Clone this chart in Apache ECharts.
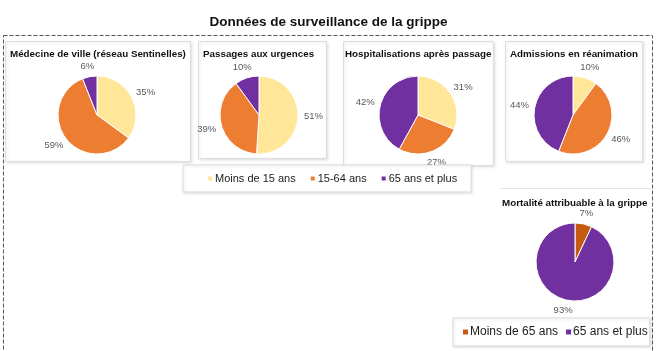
<!DOCTYPE html>
<html><head><meta charset="utf-8">
<script src="https://cdn.jsdelivr.net/npm/echarts@6/dist/echarts.min.js"></script>
<style>html,body{margin:0;padding:0;background:#fff}#c{width:657px;height:351px}</style>
</head><body><div id="c"></div>
<script>
const mainTitle = 'Données de surveillance de la grippe';
const ageGroups = ['Moins de 15 ans', '15-64 ans', '65 ans et plus'];
const mortalityGroups = ['Moins de 65 ans', '65 ans et plus'];
const panelTitles = ['Médecine de ville (réseau Sentinelles)', 'Passages aux urgences', 'Hospitalisations après passage', 'Admissions en réanimation'];
const medecineVille = [35, 59, 6];
const passagesUrgences = [51, 39, 10];
const hospitalisations = [31, 27, 42];
const reanimation = [10, 46, 44];
const mortaliteTitle = 'Mortalité attribuable à la grippe';
const mortalite = [7, 93];

const ageColors = ['#FFE699', '#ED7D31', '#7030A0'];
const mortColors = ['#C55A11', '#7030A0'];
const FONT = "'Liberation Sans', Arial, sans-serif";

const chart = echarts.init(document.getElementById('c'));

const RADIUS = 39;
const LABEL_GAP = 6;
const centers = [[97,115],[259,115],[418,115],[573,115],[575,262]];
const titleLefts = [10, 203, 345, 510];
const allValues = [medecineVille, passagesUrgences, hospitalisations, reanimation, mortalite];

// place each percentage label just outside the slice, along its mid angle
function layoutFor(si) {
  return function (p) {
    const vals = allValues[si];
    const total = vals.reduce((a, b) => a + b, 0);
    let before = 0;
    for (let i = 0; i < p.dataIndex; i++) before += vals[i];
    const mid = (before + vals[p.dataIndex] / 2) / total * 2 * Math.PI;
    const dx = Math.sin(mid), dy = -Math.cos(mid);
    const hw = p.labelRect.width / 2, hh = p.labelRect.height / 2;
    const c = centers[si];
    const d = RADIUS + LABEL_GAP;
    return { x: c[0] + dx * d + dx * hw, y: c[1] + dy * d + dy * hh, align: 'center', verticalAlign: 'middle' };
  };
}

function pie(si, names, colors) {
  return {
    type: 'pie', center: centers[si], radius: RADIUS, startAngle: 90, clockwise: true,
    avoidLabelOverlap: false, silent: true, animation: false,
    itemStyle: { borderColor: '#fff', borderWidth: 1 },
    label: { show: true, position: 'outside', formatter: '{c}%', color: '#595959', fontSize: 9.5, fontFamily: FONT },
    labelLine: { show: false, length: 4, length2: 0 },
    labelLayout: layoutFor(si),
    data: allValues[si].map((v, i) => ({ name: names[i], value: v, itemStyle: { color: colors[i] } }))
  };
}

const series = [0, 1, 2, 3].map(i => pie(i, ageGroups, ageColors));
series.push(pie(4, mortalityGroups, mortColors));

const titles = [{ text: mainTitle, left: 'center', top: 15, padding: 0,
  textStyle: { fontFamily: FONT, fontSize: 13.5, fontWeight: 'bold', color: '#111' } }];
panelTitles.forEach((t, i) => titles.push({ text: t, left: titleLefts[i], top: 49, padding: 0,
  textStyle: { fontFamily: FONT, fontSize: 9.8, fontWeight: 'bold', color: '#111' } }));
titles.push({ text: mortaliteTitle, left: 502, top: 198, padding: 0,
  textStyle: { fontFamily: FONT, fontSize: 9.8, fontWeight: 'bold', color: '#111' } });

const panelStyle = { fill: '#fff', stroke: '#dedede', lineWidth: 1, shadowBlur: 3, shadowColor: 'rgba(0,0,0,0.12)', shadowOffsetX: 1, shadowOffsetY: 1 };
const panels = [[5,41,185,120],[198,41,128,117],[343,41,150,124],[505,41,137,120]];

const graphic = [
  { type: 'rect', shape: { x: 3.5, y: 35.5, width: 649, height: 330 }, style: { fill: 'none', stroke: '#555', lineWidth: 1, lineDash: [4, 2] }, z: 0 },
  ...panels.map(p => ({ type: 'rect', shape: { x: p[0]+0.5, y: p[1]+0.5, width: p[2], height: p[3] }, style: panelStyle, z: 0 })),
  { type: 'line', shape: { x1: 500, y1: 188.5, x2: 651, y2: 188.5 }, style: { stroke: '#e3e3e3', lineWidth: 1 }, z: 0 }
];

chart.setOption({
  backgroundColor: '#fff',
  animation: false,
  title: titles,
  graphic: graphic,
  legend: [
    { data: ageGroups, left: 183, top: 165, orient: 'horizontal', selectedMode: false,
      icon: 'rect', itemWidth: 6, itemHeight: 6, itemGap: 13,
      padding: [8, 14, 8, 23], backgroundColor: '#fff', borderColor: '#dcdcdc', borderWidth: 1,
      shadowBlur: 3, shadowColor: 'rgba(0,0,0,0.12)', shadowOffsetX: 1, shadowOffsetY: 1,
      textStyle: { fontFamily: FONT, fontSize: 11, color: '#222', padding: [0,0,0,-3] } },
    { data: mortalityGroups, left: 453, top: 318, orient: 'horizontal', selectedMode: false,
      icon: 'rect', itemWidth: 7, itemHeight: 7, itemGap: 6,
      padding: [8, 2, 8, 8], backgroundColor: '#fff', borderColor: '#dcdcdc', borderWidth: 1,
      shadowBlur: 3, shadowColor: 'rgba(0,0,0,0.12)', shadowOffsetX: 1, shadowOffsetY: 1,
      textStyle: { fontFamily: FONT, fontSize: 12, color: '#222', padding: [0,0,0,-4] } }
  ],
  series: series
});
</script></body></html>
